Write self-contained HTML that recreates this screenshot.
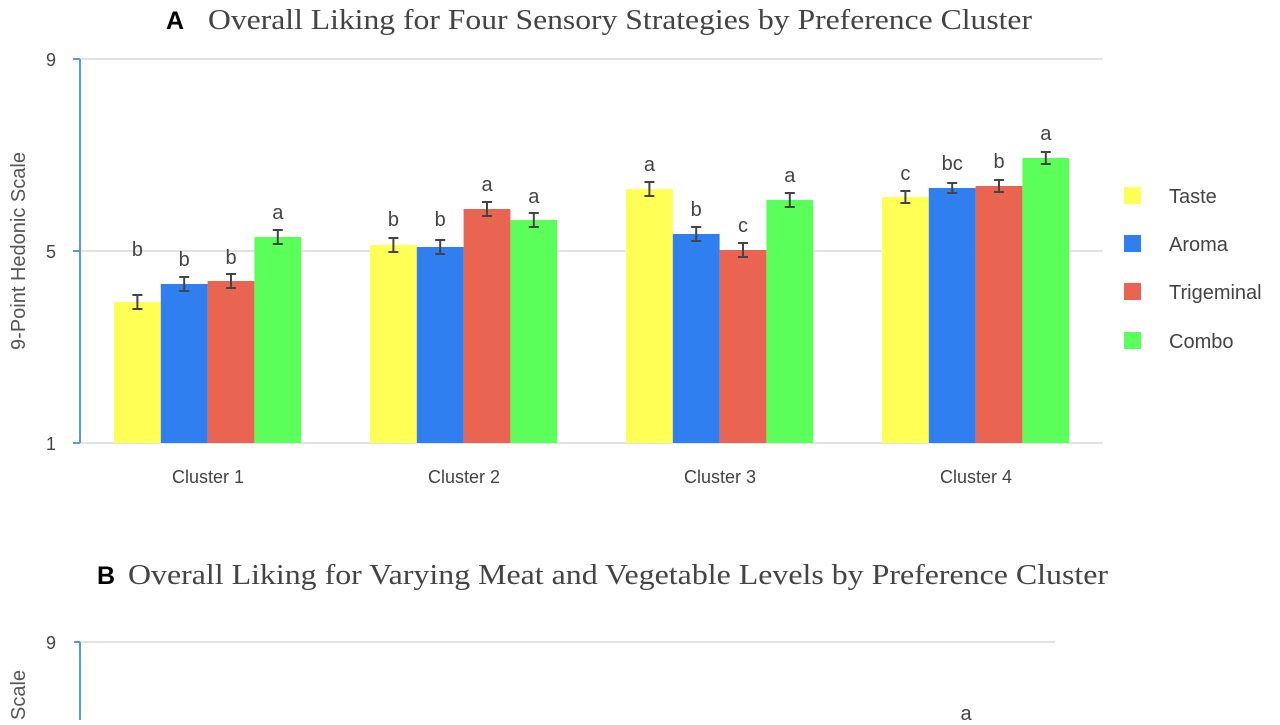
<!DOCTYPE html>
<html><head><meta charset="utf-8"><style>body{margin:0;background:#fff}</style></head><body>
<svg width="1280" height="720" xmlns="http://www.w3.org/2000/svg" font-family="Liberation Sans, sans-serif">
<rect width="1280" height="720" fill="#fff"/>
<text x="166" y="29" font-size="25" font-weight="bold" fill="#000">A</text>
<text x="208" y="29" font-size="28" font-family="Liberation Serif, serif" fill="#444" textLength="824" lengthAdjust="spacingAndGlyphs">Overall Liking for Four Sensory Strategies by Preference Cluster</text>
<g stroke="#d9d9d9" stroke-width="1.5"><line x1="80" y1="59" x2="1103" y2="59"/><line x1="80" y1="251" x2="1103" y2="251"/><line x1="80" y1="443" x2="1103" y2="443"/></g>
<line x1="80" y1="59" x2="80" y2="443" stroke="#5b9bd5" stroke-width="2"/>
<g stroke="#5b9bd5" stroke-width="2"><line x1="73" y1="59" x2="80" y2="59"/><line x1="73" y1="251" x2="80" y2="251"/><line x1="73" y1="443" x2="80" y2="443"/></g>
<g font-size="18" fill="#444" text-anchor="end"><text x="56" y="66">9</text><text x="56" y="258">5</text><text x="56" y="450">1</text></g>
<text transform="translate(25,251) rotate(-90)" font-size="20" fill="#555" text-anchor="middle">9-Point Hedonic Scale</text>

<g>
<rect x="114" y="302" width="46.8" height="141" fill="#ffff55"/>
<rect x="160.8" y="284" width="46.8" height="159" fill="#2f7ff0"/>
<rect x="207.6" y="281" width="46.8" height="162" fill="#ea6452"/>
<rect x="254.4" y="237" width="46.8" height="206" fill="#5aff5a"/>
<rect x="370" y="245" width="46.8" height="198" fill="#ffff55"/>
<rect x="416.8" y="247" width="46.8" height="196" fill="#2f7ff0"/>
<rect x="463.6" y="209" width="46.8" height="234" fill="#ea6452"/>
<rect x="510.4" y="220" width="46.8" height="223" fill="#5aff5a"/>
<rect x="626" y="189" width="46.8" height="254" fill="#ffff55"/>
<rect x="672.8" y="234" width="46.8" height="209" fill="#2f7ff0"/>
<rect x="719.6" y="250" width="46.8" height="193" fill="#ea6452"/>
<rect x="766.4" y="200" width="46.8" height="243" fill="#5aff5a"/>
<rect x="882" y="197" width="46.8" height="246" fill="#ffff55"/>
<rect x="928.8" y="188" width="46.8" height="255" fill="#2f7ff0"/>
<rect x="975.6" y="186" width="46.8" height="257" fill="#ea6452"/>
<rect x="1022.4" y="158" width="46.8" height="285" fill="#5aff5a"/>
</g>
<g stroke="#444" stroke-width="2" fill="none">
<path d="M132.4 295h10M137.4 295v14M132.4 309h10"/>
<path d="M179.2 277h10M184.2 277v14M179.2 291h10"/>
<path d="M226 274h10M231 274v14M226 288h10"/>
<path d="M272.8 230h10M277.8 230v14M272.8 244h10"/>
<path d="M388.4 238h10M393.4 238v14M388.4 252h10"/>
<path d="M435.2 240h10M440.2 240v14M435.2 254h10"/>
<path d="M482 202h10M487 202v14M482 216h10"/>
<path d="M528.8 213h10M533.8 213v14M528.8 227h10"/>
<path d="M644.4 182h10M649.4 182v14M644.4 196h10"/>
<path d="M691.2 227h10M696.2 227v14M691.2 241h10"/>
<path d="M738 243h10M743 243v14M738 257h10"/>
<path d="M784.8 193h10M789.8 193v14M784.8 207h10"/>
<path d="M900.4 191h10M905.4 191v12M900.4 203h10"/>
<path d="M947.2 183h10M952.2 183v10M947.2 193h10"/>
<path d="M994 180h10M999 180v12M994 192h10"/>
<path d="M1040.8 152h10M1045.8 152v12M1040.8 164h10"/>
</g>
<g font-size="20" fill="#444" text-anchor="middle">
<text x="137.4" y="256">b</text><text x="184.2" y="266">b</text><text x="231" y="264">b</text><text x="277.8" y="219">a</text>
<text x="393.4" y="226">b</text><text x="440.2" y="226">b</text><text x="487" y="191">a</text><text x="533.8" y="203">a</text>
<text x="649.4" y="171">a</text><text x="696.2" y="216">b</text><text x="743" y="232">c</text><text x="789.8" y="182">a</text>
<text x="905.4" y="180">c</text><text x="952.2" y="170">bc</text><text x="999" y="168">b</text><text x="1045.8" y="140">a</text>
</g>

<g font-size="18" fill="#444" text-anchor="middle"><text x="208" y="483">Cluster 1</text><text x="464" y="483">Cluster 2</text><text x="720" y="483">Cluster 3</text><text x="976" y="483">Cluster 4</text></g>
<g font-size="20" fill="#444">
<rect x="1124" y="187" width="17" height="17" fill="#ffff55"/><text x="1169" y="203">Taste</text>
<rect x="1124" y="235" width="17" height="17" fill="#2f7ff0"/><text x="1169" y="251">Aroma</text>
<rect x="1124" y="283" width="17" height="17" fill="#ea6452"/><text x="1169" y="299">Trigeminal</text>
<rect x="1124" y="332" width="17" height="17" fill="#5aff5a"/><text x="1169" y="348">Combo</text>
</g>
<text x="97" y="584" font-size="25" font-weight="bold" fill="#000">B</text>
<text x="128" y="584" font-size="28" font-family="Liberation Serif, serif" fill="#444" textLength="980" lengthAdjust="spacingAndGlyphs">Overall Liking for Varying Meat and Vegetable Levels by Preference Cluster</text>
<line x1="80" y1="642" x2="1055" y2="642" stroke="#d9d9d9" stroke-width="1.5"/>
<line x1="80" y1="642" x2="80" y2="720" stroke="#5b9bd5" stroke-width="2"/>
<line x1="74" y1="642" x2="80" y2="642" stroke="#5b9bd5" stroke-width="2"/>
<text x="56" y="649" font-size="18" fill="#444" text-anchor="end">9</text>
<text transform="translate(25,720) rotate(-90)" font-size="20" fill="#555">Scale</text>
<text x="966" y="720" font-size="20" fill="#444" text-anchor="middle">a</text>
</svg>
</body></html>
